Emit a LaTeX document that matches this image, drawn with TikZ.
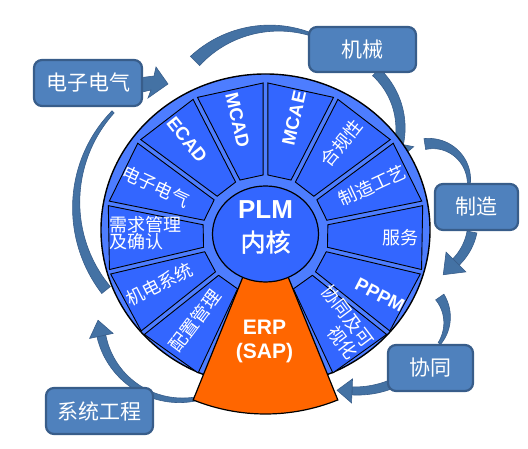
\documentclass[tikz,border=0pt]{standalone}
\usepackage{fontspec}
\setmainfont{Liberation Sans}
\newfontfamily\cjk{Noto Sans CJK SC}
\newfontfamily\cjkb[FakeBold=1.5]{Noto Sans CJK SC}
\definecolor{disc}{HTML}{4D7DFF}
\definecolor{segc}{HTML}{3366FF}
\definecolor{erpc}{HTML}{FF6600}
\definecolor{boxf}{HTML}{4F81BD}
\definecolor{boxd}{HTML}{385D8A}
\definecolor{arrf}{HTML}{4472A4}
\tikzset{
  arrowfill/.style={fill=arrf, draw=boxd, line width=0.6pt},
  rbox/.style={draw=boxd, line width=2.2pt, fill=boxf, rounded corners=8pt, text=white,
    font=\cjk\fontsize{21}{24}\selectfont, inner sep=0pt},
  segshape/.style={fill=segc, draw=black, line width=0.9pt},
  segcn/.style={text=white, font=\cjk\fontsize{18}{16}\selectfont, inner sep=0pt},
  seglat/.style={text=white, font=\bfseries\fontsize{18.5}{20}\selectfont, inner sep=0pt},
}
% tapered arc: cx cy r a0 a1 w0 w1
\newcommand\TapArc[7]{%
 \path[arrowfill] plot[domain=#4:#5,samples=60] ({#1+(#3+0.5*(#6+(#7-#6)*(\x-(#4))/((#5)-(#4))))*cos(\x)},{#2+(#3+0.5*(#6+(#7-#6)*(\x-(#4))/((#5)-(#4))))*sin(\x)})
 -- plot[domain=#5:#4,samples=60] ({#1+(#3-0.5*(#6+(#7-#6)*(\x-(#4))/((#5)-(#4))))*cos(\x)},{#2+(#3-0.5*(#6+(#7-#6)*(\x-(#4))/((#5)-(#4))))*sin(\x)}) -- cycle;}
% arrow head: cx cy r theta halfwidth length dir
\newcommand\ArrHead[7]{%
 \path[arrowfill] ({#1+(#3+#5)*cos(#4)},{#2+(#3+#5)*sin(#4)}) -- ({#1+(#3-#5)*cos(#4)},{#2+(#3-#5)*sin(#4)})
 -- ({#1+#3*cos(#4)+#6*cos((#4)+(#7)*90)},{#2+#3*sin(#4)+#6*sin((#4)+(#7)*90)}) -- cycle;}
\begin{document}
\begin{tikzpicture}[x=1pt,y=1pt]
\useasboundingbox (0,0) rectangle (528,449);
% ---- arrows ----
\TapArc{274.2}{308.8}{112}{135}{71}{13}{3}
\TapArc{212.2}{244}{136}{218.7}{136.8}{11}{3}
\TapArc{430.8}{267.3}{38.1}{99}{-2}{11}{3}
\TapArc{407}{129}{40}{35}{-36}{10}{3}
\TapArc{323.5}{320.6}{77}{47}{-11.5}{10}{9}
\ArrHead{323.5}{320.6}{77}{-11.5}{15}{19}{-1}
\TapArc{414.7}{228.3}{58.4}{-11.2}{-45}{10}{9}
\ArrHead{414.7}{228.3}{58.4}{-45}{14}{18}{-1}
\TapArc{356}{153}{95}{-69.7}{-92.4}{9}{8}
\ArrHead{356}{153}{95}{-92.4}{12}{15}{-1}
\TapArc{180.9}{130}{81.3}{-80}{-168}{4}{9}
\ArrHead{180.9}{130}{81.3}{-168}{12}{16}{-1}
\path[arrowfill] (138,371) -- (154,373) -- (156,382) -- (168,365) -- (148,351) -- (151,359) -- (138,356) -- cycle;
% ---- wheel ----
\draw[fill=disc, line width=1.4pt] (265.5,219) ellipse [x radius=164.5pt, y radius=156pt];
\begin{scope}[shift={(265.5,214)}, xscale=1.054]
  \def\ra{60}\def\rb{152}\def\g{2.3}
  \foreach \a in {90,64,38,12,-14,-40,-114,-140,-166,-192,-218,-244}{
    \pgfmathsetmacro\b{\a-26}
    \draw[segshape] ({\ra*cos(\a)+\g*sin(\a)},{\ra*sin(\a)-\g*cos(\a)})
      -- ({\rb*cos(\a)+\g*sin(\a)},{\rb*sin(\a)-\g*cos(\a)})
      -- ({\rb*cos(\b)-\g*sin(\b)},{\rb*sin(\b)+\g*cos(\b)})
      -- ({\ra*cos(\b)-\g*sin(\b)},{\ra*sin(\b)+\g*cos(\b)}) -- cycle;
  }
\end{scope}
\begin{scope}[shift={(265.5,228)}]
  \draw[fill=erpc, line width=1.2pt] (-112:60) -- (-112:193) arc[start angle=-112, end angle=-68, radius=193pt]
    -- (-68:60) arc[start angle=-68, end angle=-112, radius=60pt] -- cycle;
\end{scope}
\draw[fill=segc, line width=1.2pt] (265.5,215) ellipse [x radius=53pt, y radius=48pt];
\node[text=white, font=\bfseries\fontsize{26}{28}\selectfont, inner sep=0pt] (plm) at (265.5,239) {PLM};
\node[text=white, font=\cjkb\fontsize{25}{27}\selectfont, inner sep=0pt] (core) at (265.5,207) {内核};
\node[text=white, font=\bfseries\fontsize{21}{24}\selectfont, inner sep=0pt] (erp) at (264.5,121.5) {ERP};
\node[text=white, font=\bfseries\fontsize{21}{24}\selectfont, inner sep=0pt] (sap) at (264.5,96) {(SAP)};
% ---- segment texts ----
\begin{scope}[shift={(265.5,214)}, xscale=1.054]
  \node[seglat, rotate=77] (t1) at (77:120) {MCAE};
  \node[segcn, rotate=51] (t2) at (52:117) {合规性};
  \node[segcn, rotate=25] (t3) at (26:113) {制造工艺};
  \node[segcn] (t4) at (-1:128) {服务};
  \node[seglat, rotate=-27] (t5) at (-29:124) {PPPM};
  \node[segcn, rotate=-53, align=right, font=\cjk\fontsize{18}{20}\selectfont] (t6) at (-51:112) {协同及可\\视化};
  \node[segcn, rotate=53] (t7) at (-128:109) {配置管理};
  \node[segcn, rotate=27] (t8) at (-154:112) {机电系统};
  \node[segcn, align=left] (t9) at (179:114) {需求管理\\及确认};
  \node[segcn, rotate=-25] (t10) at (155:115) {电子电气};
  \node[seglat, rotate=-51] (t11) at (128:121) {ECAD};
  \node[seglat, rotate=-77] (t12) at (103:118) {MCAD};
\end{scope}
% ---- boxes ----
\node[rbox, minimum width=108pt, minimum height=46pt] (b1) at (88,366) {电子电气};
\node[rbox, minimum width=107pt, minimum height=45pt] (b2) at (362.5,399.5) {机械};
\node[rbox, minimum width=83pt, minimum height=46pt] (b3) at (476.5,242) {制造};
\node[rbox, minimum width=85pt, minimum height=46pt] (b4) at (430.5,81) {协同};
\node[rbox, minimum width=107pt, minimum height=46pt] (b5) at (99.5,38) {系统工程};
\end{tikzpicture}
\end{document}
